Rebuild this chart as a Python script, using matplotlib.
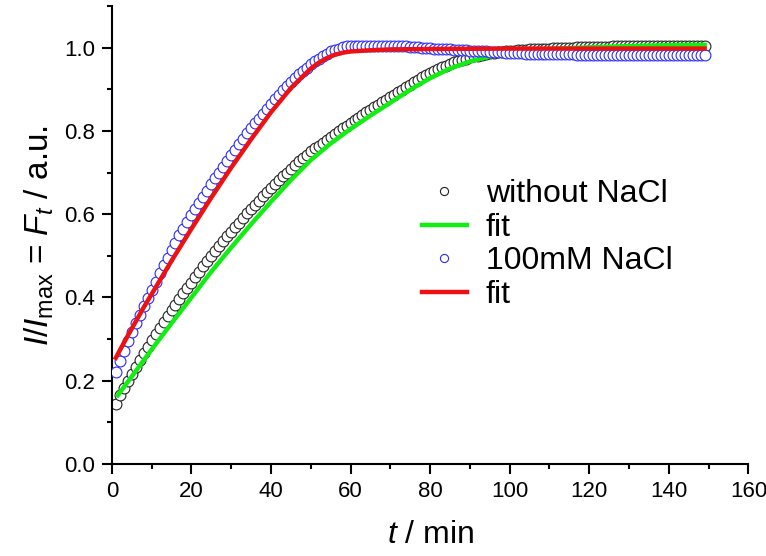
import numpy as np
import matplotlib
matplotlib.use("Agg")
import matplotlib.pyplot as plt
from matplotlib.ticker import MultipleLocator

# measured time points (one reading per minute)
t_data = np.arange(1, 150)

# without NaCl, I/Imax
y_without = [
    0.145, 0.165, 0.183, 0.200, 0.217, 0.234, 0.250, 0.266, 0.282, 0.297,
    0.312, 0.327, 0.341, 0.355, 0.369, 0.383, 0.397, 0.410, 0.423, 0.436,
    0.449, 0.462, 0.475, 0.487, 0.499, 0.511, 0.523, 0.535, 0.547, 0.558,
    0.569, 0.580, 0.591, 0.602, 0.613, 0.623, 0.633, 0.643, 0.653, 0.663,
    0.673, 0.682, 0.691, 0.700, 0.709, 0.718, 0.727, 0.735, 0.743, 0.751,
    0.758, 0.765, 0.772, 0.779, 0.786, 0.793, 0.800, 0.806, 0.813, 0.819,
    0.826, 0.832, 0.838, 0.845, 0.851, 0.857, 0.863, 0.869, 0.875, 0.881,
    0.887, 0.893, 0.899, 0.905, 0.911, 0.917, 0.923, 0.929, 0.934, 0.939,
    0.944, 0.949, 0.953, 0.957, 0.961, 0.965, 0.968, 0.971, 0.974, 0.977,
    0.979, 0.981, 0.983, 0.985, 0.987, 0.988, 0.989, 0.990, 0.991, 0.992,
    0.993, 0.994, 0.995, 0.995, 0.996, 0.996, 0.997, 0.997, 0.998, 0.998,
    0.999, 0.999, 0.999, 1.000, 1.000, 1.000, 1.001, 1.001, 1.001, 1.001,
    1.002, 1.002, 1.002, 1.002, 1.002, 1.003, 1.003, 1.003, 1.003, 1.003,
    1.003, 1.004, 1.004, 1.004, 1.004, 1.004, 1.004, 1.004, 1.004, 1.004,
    1.005, 1.005, 1.005, 1.005, 1.005, 1.005, 1.005, 1.005, 1.005,
]

# 100mM NaCl, I/Imax
y_nacl = [
    0.222, 0.248, 0.272, 0.295, 0.317, 0.338, 0.359, 0.379, 0.399, 0.418,
    0.438, 0.458, 0.477, 0.496, 0.515, 0.532, 0.549, 0.565, 0.581, 0.597,
    0.612, 0.627, 0.642, 0.657, 0.672, 0.686, 0.700, 0.714, 0.728, 0.742,
    0.755, 0.768, 0.781, 0.794, 0.806, 0.818, 0.830, 0.842, 0.854, 0.865,
    0.876, 0.887, 0.898, 0.908, 0.918, 0.927, 0.936, 0.944, 0.952, 0.960,
    0.967, 0.974, 0.980, 0.986, 0.991, 0.995, 0.998, 1.001, 1.003, 1.004,
    1.004, 1.004, 1.004, 1.004, 1.004, 1.004, 1.004, 1.004, 1.004, 1.004,
    1.004, 1.004, 1.003, 1.003, 1.002, 1.001, 1.001, 1.000, 1.000, 0.999,
    0.998, 0.998, 0.997, 0.997, 0.996, 0.995, 0.995, 0.994, 0.994, 0.993,
    0.992, 0.992, 0.991, 0.991, 0.990, 0.990, 0.989, 0.989, 0.988, 0.988,
    0.988, 0.987, 0.987, 0.986, 0.986, 0.986, 0.986, 0.985, 0.985, 0.985,
    0.985, 0.984, 0.984, 0.984, 0.984, 0.984, 0.983, 0.983, 0.983, 0.983,
    0.983, 0.983, 0.983, 0.983, 0.983, 0.983, 0.983, 0.983, 0.983, 0.983,
    0.983, 0.983, 0.982, 0.982, 0.982, 0.982, 0.982, 0.982, 0.982, 0.982,
    0.982, 0.982, 0.982, 0.982, 0.982, 0.982, 0.982, 0.982, 0.982,
]

# fit curves
t_fit_green = [1.5, 5, 10, 15, 20, 25, 30, 35, 40, 45, 50, 55, 60, 65, 70,
               75, 80, 85, 90, 95, 100, 105, 110, 120, 130, 140, 149]
y_fit_green = [0.165, 0.210, 0.275, 0.338, 0.400, 0.462, 0.520, 0.576, 0.630,
               0.682, 0.730, 0.770, 0.805, 0.837, 0.868, 0.899, 0.927, 0.950,
               0.967, 0.979, 0.987, 0.993, 0.997, 1.001, 1.004, 1.006, 1.007]

t_fit_red = [1, 2, 4, 6, 8, 10, 15, 20, 25, 30, 35, 40, 45, 50, 52, 54, 56,
             58, 60, 65, 70, 80, 100, 149]
y_fit_red = [0.255, 0.273, 0.308, 0.342, 0.376, 0.408, 0.488, 0.565, 0.640,
             0.712, 0.780, 0.845, 0.903, 0.950, 0.964, 0.975, 0.983, 0.988,
             0.991, 0.994, 0.996, 0.997, 0.998, 0.998]

xticks = [0, 20, 40, 60, 80, 100, 120, 140, 160]
yticks = [0.0, 0.2, 0.4, 0.6, 0.8, 1.0]

plt.rcParams["font.family"] = ["Liberation Sans", "DejaVu Sans"]
plt.rcParams["mathtext.fontset"] = "custom"
plt.rcParams["mathtext.rm"] = "Liberation Sans"
plt.rcParams["mathtext.it"] = "Liberation Sans:italic"

fig = plt.figure(figsize=(7.66, 5.56), dpi=100)
ax = fig.add_axes([0.146, 0.1655, 0.831, 0.8235])

ax.plot(t_data, y_without, "o", ms=7.8, mfc="white", mec="#222222", mew=0.8,
        label="without NaCl", zorder=2)
ax.plot(t_fit_green, y_fit_green, "-", color="#11ee11", lw=3.2, label="fit", zorder=3)
ax.plot(t_data, y_nacl, "o", ms=7.8, mfc="white", mec="#2a2aff", mew=0.8,
        label="100mM NaCl", zorder=4)
ax.plot(t_fit_red, y_fit_red, "-", color="#ee1111", lw=3.2, label="fit", zorder=5)

ax.set_xlim(0, 160)
ax.set_ylim(0, 1.1)
ax.set_xticks(xticks)
ax.set_yticks(yticks)
ax.xaxis.set_minor_locator(MultipleLocator(10))
ax.yaxis.set_minor_locator(MultipleLocator(0.1))
ax.set_yticklabels([f"{v:.1f}" for v in yticks])

for s in ["top", "right"]:
    ax.spines[s].set_visible(False)
for s in ["left", "bottom"]:
    ax.spines[s].set_linewidth(1.5)

ax.tick_params(which="major", direction="out", length=7, width=1.5,
               labelsize=16, pad=5)
ax.tick_params(which="minor", direction="out", length=3.8, width=1.5)

ax.set_xlabel(r"$t$ / min", fontsize=23, labelpad=13)
ax.set_ylabel(r"$I/I_{\mathrm{max}}$ = $F_t$ / a.u.", fontsize=24, labelpad=6)

leg = ax.legend(loc="upper left", bbox_to_anchor=(0.487, 0.622), frameon=False,
                fontsize=23, markerscale=0.75, handlelength=1.4,
                handletextpad=0.6, labelspacing=0.11, borderpad=0,
                borderaxespad=0)

fig.savefig("out.png", dpi=100)
